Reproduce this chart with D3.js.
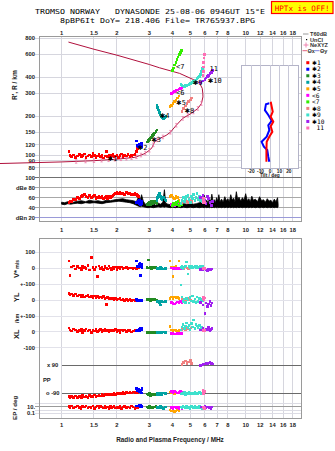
<!DOCTYPE html>
<html><head><meta charset="utf-8">
<script src="https://cdn.jsdelivr.net/npm/d3@7"></script>
<style>
html,body{margin:0;padding:0;background:#fff;}
svg{display:block;}
text{font-family:"Liberation Sans",Arial,sans-serif;}
.mono{font-family:"DejaVu Sans Mono","Liberation Mono",monospace;white-space:pre;}
.star{font-family:"DejaVu Sans","DejaVu Sans Mono",sans-serif;}
</style></head><body>
<svg id="c" width="335" height="451"></svg>
<script>
// ---- axis ticks ----
const freqTicks = [1, 1.5, 2, 3, 4, 5, 6, 7, 8, 10, 12, 14, 16, 18];
const freqTickLabels = ["1", "1.5", "2", "3", "4", "5", "6", "7", "8", "10", "12", "14", "16", "18"];
const rangeTicks = [800, 600, 400, 300, 200, 150, 120, 100, 90, 80];
const dbTicks = [100, 80, 60, 40, 20];
const dbTickLabels = ["100", "dBe 80", "60", "40", "dBn 20"];
const vstarTicks = [100, 0, -100];
const vstarTickLabels = ["100", "0", "+-100"];
const ylTicks = [0, -100];
const ylTickLabels = ["0", "+-100"];
const xlTicks = [0, -100];
const xlTickLabels = ["0", "-100"];
const epTicks = [100, 10, 1, 0.1];
const epTickLabels = ["", "10.", "", "0.1"];
const tiltTicks = [-20, -10, 0, 10, 20];

// ---- true-height profile (plasma frequency MHz, real height km) ----
const profileFreq = [0.46, 1.0, 1.5, 2.0, 2.5, 2.65, 2.8, 2.9, 3.0, 3.1, 3.15, 3.2, 3.3, 3.4, 3.55, 3.7, 3.9, 4.2, 4.55, 5.07, 5.5, 5.75, 5.86, 5.85, 5.81, 5.63, 5.17, 4.38, 3.4, 3.0, 2.0, 1.5, 1.09];
const profileHeight = [86, 88.5, 90.5, 93, 96, 99, 102, 105, 109, 114, 120, 126, 131, 134, 138, 142, 150, 170, 192, 210, 229, 250, 281, 300, 327, 357, 384, 427, 472, 500, 590, 656, 745];
// NeXYZ profile points
const nexyzFreq = [1.2, 1.35, 1.5, 1.65, 1.8, 1.95, 2.1, 2.25, 2.4, 2.55, 2.7, 2.85, 3.0, 3.15, 3.3, 3.55, 3.9, 4.2, 4.55, 4.85, 5.2, 5.5, 5.75];
const nexyzHeight = [89.3, 90, 90.5, 91.3, 92, 92.8, 93.6, 94.5, 95.4, 97, 100, 103.5, 109, 120, 131, 138, 150, 170, 192, 203, 215, 229, 250];

// ---- tilt profiles (deg vs real height km) ----
const thetaXHeight = [258, 216, 198, 181, 167, 151, 138.5, 126.6, 109, 88.8];
const thetaX = [0.75, 2.9, 0.75, 3.5, 0.75, 2.5, -0.75, -3.5, -3.8, -3.8];
const thetaYHeight = [250.8, 247, 222, 204, 184, 170, 156, 138.5, 126.6, 115.9, 109.3, 97, 88.8];
const thetaY = [-0.75, -4.3, -5.4, -1.8, 1.8, -1.8, -0.75, -3.5, -8.9, -6.5, -2.9, -1.8, -0.75];

// ---- receiver noise band (dB) ----
const noiseFreq = [1.00,1.04,1.08,1.12,1.16,1.22,1.28,1.35,1.42,1.50,1.58,1.66,1.75,1.85,1.95,2.05,2.15,2.25,2.35,2.45,2.55,2.62,2.68,2.72,2.78,2.85,2.95,3.05,3.15,3.25,3.35,3.45,3.55,3.62,3.68,3.78,3.90,4.00,4.15,4.30,4.45,4.60,4.80,5.00,5.20,5.40,5.60,5.80,5.95,6.05,6.15,6.25,6.35,6.45,6.55,6.65,6.75,6.85,6.95,7.05,7.15,7.25,7.40,7.55,7.70,7.85,8.00,8.15,8.30,8.45,8.60,8.75,8.90,9.05,9.20,9.40,9.60,9.80,10.0,10.2,10.4,10.6,10.8,11.0,11.3,11.6,11.9,12.2,12.5,12.8,13.1,13.4,13.7,14.0,14.3,14.6,14.9,15.0];
const noiseLow = [47,46,48,47,48,49,48,50,49,50,49,48,50,51,52,53,52,51,50,48,45,43,42,43,42,41,40,41,40,41,42,41,42,41,42,41,40,41,40,41,40,41,40,41,40,41,40,41,40,41,40,41,40,41,40,41,40,41,40,41,40,41,40,41,40,41,40,41,40,41,40,41,40,41,40,41,40,41,40,41,40,41,40,41,40,41,40,41,40,41,40,41,40,41,40,41,40,42];
const noiseHigh = [51,50,52,53,51,53,54,52,55,53,54,52,55,54,56,57,58,56,55,54,52,62,56,66,53,47,45,46,48,45,49,47,51,76,49,47,46,48,47,49,46,48,47,49,47,48,50,51,65,50,55,49,58,52,67,53,56,50,60,53,66,52,57,51,62,54,58,52,66,55,59,52,72,56,61,53,60,55,68,54,58,52,63,55,57,52,62,54,56,51,58,53,55,50,57,52,60,48];

// ---- echo clusters: [freq MHz, R' km, amplitude dB, V* m/s, YL km, XL km, PP deg, EP deg] ----
const echoes1 = [
 [1.10,107,50,45,40,22,-112,12],[1.11,99,52,-46,33,10,-118,6],[1.13,97,53,8,36,5,-110,20],
 [1.16,100,56,15,28,18,-115,4],[1.19,96,57,-4,38,12,-108,9],[1.22,98,60,10,25,2,-116,15],
 [1.25,101,58,2,31,8,-112,5],[1.28,97,62,-8,22,14,-120,3],[1.30,99,64,12,27,-4,-105,11],
 [1.33,102,66,5,20,6,-113,7],[1.36,96,63,-2,24,16,-110,18],[1.39,98,61,18,29,3,-118,4],
 [1.42,100,65,-12,18,10,-104,10],[1.45,97,60,66,22,-6,-112,6],[1.48,103,62,4,15,12,-109,14],
 [1.51,99,64,-6,25,4,-102,3],[1.54,96,59,9,17,18,-111,8],[1.57,98,61,-52,21,0,-106,20],
 [1.60,101,63,13,12,8,-100,5],[1.63,97,60,0,19,13,-108,12],[1.66,99,62,7,14,-3,-98,7],
 [1.69,95,58,-9,22,9,-104,4],[1.72,98,61,11,10,15,-96,16],[1.75,106,63,3,-27,5,-102,6],
 [1.78,97,59,-5,16,11,-99,9],[1.81,100,62,14,8,-2,-94,3],[1.84,96,60,1,13,7,-100,13],
 [1.87,99,63,-10,6,12,-95,5],[1.90,101,65,6,11,3,-97,8],[1.93,97,66,-3,4,9,-92,19],
 [1.96,98,68,9,9,14,-96,4],[2.00,100,70,-7,2,2,-90,10],[2.04,96,69,4,7,8,-93,6],
 [2.08,99,71,-1,12,-4,-88,15],[2.12,102,68,8,0,10,-92,3],[2.16,97,69,-4,5,5,-86,8],
 [2.20,99,67,2,-3,12,-90,12],[2.25,98,70,5,3,0,-85,5],[2.30,101,68,-2,-2,6,-88,9],
 [2.35,97,69,1,4,9,-84,4],[2.40,99,66,3,-4,-3,-87,14],[2.45,100,67,-1,1,4,-83,7],
 [2.50,101,68,2,-3,8,-86,3],[2.55,106,66,0,2,5,-82,10],[2.58,112,64,3,-1,10,-85,6],
 [2.61,117,62,1,0,7,-80,12]
];
const echoes2 = [
 [2.55,128,50,45,2,5,-58,20],[2.60,117,52,10,-2,10,-62,15],[2.63,120,48,25,-5,16,-66,25],
 [2.66,122,54,30,0,20,-72,18],[2.68,115,46,-46,-4,14,-78,30],[2.70,119,50,15,-6,24,-84,22],
 [2.72,121,53,20,-3,19,-88,16],[2.74,117,49,5,-2,12,-60,12],[2.66,118,51,8,-5,8,-80,10],
 [2.70,123,47,22,-1,18,-68,26],[2.58,119,50,12,-3,6,-75,14],[2.74,124,52,28,-4,22,-64,20]
];
const echoes3 = [
 [2.92,126,46,5,2,-4,-95,8],[2.96,129,48,52,0,-2,-100,5],[3.00,132,50,3,4,-6,-92,12],
 [3.04,135,47,8,-2,-3,-105,6],[3.08,138,52,0,3,-5,-98,10],[3.12,141,49,6,1,-8,-102,4],
 [3.16,144,51,2,-1,-4,-94,9],[3.20,148,53,4,2,-6,-99,7],[3.25,152,50,7,0,-3,-96,11],
 [3.30,156,48,3,-2,-5,-101,5]
];
const echoes4 = [
 [3.30,242,55,-3,-8,-6,-96,6],[3.33,232,60,2,-12,-4,-92,10],[3.36,222,65,-5,-5,-8,-100,4],
 [3.40,212,68,0,-15,-3,-94,8],[3.44,204,62,4,-30,-6,-90,12],[3.48,198,58,-2,-10,-5,-98,5],
 [3.52,194,56,1,-8,-7,-93,9],[3.58,192,60,-4,-12,-2,-88,3],[3.64,195,57,3,-6,-6,-95,7],
 [3.70,198,55,-1,-9,-4,-90,10]
];
const echoes5 = [
 [3.88,236,62,45,10,31,-82,1],[3.95,242,65,8,18,10,-88,0.5],[4.02,250,60,-52,5,5,-85,0.8],
 [4.10,258,58,4,20,12,-90,0.4],[4.18,266,63,10,12,8,-84,0.6],[4.26,276,61,2,15,3,-87,1],
 [4.34,286,55,45,8,6,-86,0.5]
];
const echoes6 = [
 [3.95,300,46,2,-15,-12,-80,5],[4.02,304,48,-2,-22,-10,-85,3],[4.10,309,45,0,-25,-15,-78,8],
 [4.18,314,50,3,-18,-13,-82,4],[4.26,318,47,-1,-12,-11,-88,6],[4.34,323,49,1,-20,-14,-84,2],
 [4.42,328,46,0,-10,-12,-80,7],[4.50,333,48,2,-16,-10,-86,3]
];
const echoes7 = [
 [4.00,450,44,null,null,null,null,null],[4.06,470,48,null,null,null,null,null],
 [4.12,495,46,null,null,null,null,null],[4.18,520,50,null,null,null,null,null],
 [4.24,545,47,null,null,null,null,null],[4.30,570,52,null,null,null,null,null],
 [4.36,595,45,null,null,null,null,null],[4.42,620,49,null,null,null,null,null],
 [4.48,640,46,null,null,null,null,null]
];
const echoes8 = [
 [4.50,218,50,5,10,15,95,5],[4.60,229,52,0,5,20,105,8],[4.70,240,55,8,-5,10,115,4],
 [4.80,250,53,2,0,25,100,10],[4.90,258,51,-3,8,18,110,6],[5.00,267,54,6,3,12,120,3],
 [5.06,275,52,1,-2,22,98,7]
];
const echoes9 = [
 [4.45,350,48,5,94,10,-95,10],[4.52,345,55,12,20,30,-88,5],[4.58,342,60,0,-10,45,-92,15],
 [4.65,340,52,8,5,20,-85,8],[4.72,343,58,15,-15,35,-98,4],[4.78,345,62,39,10,55,-90,12],
 [4.85,348,65,-36,0,25,-94,6],[4.92,352,56,10,-20,40,-86,9],[5.00,356,50,4,15,15,-92,3],
 [5.08,360,63,12,-5,50,-88,14],[5.15,365,58,2,25,30,-95,7],[5.22,370,66,9,-10,73,-90,5],
 [5.30,375,54,14,5,20,-84,11],[5.38,380,60,6,-15,45,-93,4],[5.45,388,68,11,20,35,-87,8],
 [5.52,395,57,3,-8,25,-91,6],[5.60,405,62,8,10,40,-85,12],[5.68,420,55,13,-12,15,-89,5],
 [5.75,440,59,5,3,30,-94,9],[5.82,465,52,10,-5,20,-88,3],[5.85,480,56,7,0,10,-92,7]
];
const echoes10 = [
 [5.70,362,60,-8,-15,10,88,8],[5.85,372,65,-12,-30,22,92,4],[6.00,385,55,-5,-83,5,96,12],
 [6.10,393,48,-10,-20,18,100,6],[6.20,402,62,-15,-40,12,98,10],[6.30,412,58,-6,-25,25,102,5],
 [6.40,424,50,-9,-10,8,104,9],[6.50,436,45,-12,-35,15,100,3],[6.58,448,52,-4,-20,20,97,7]
];
const echoes11 = [
 [5.85,410,55,0,10,5,-70,6],[5.88,440,50,2,20,12,-85,4],[5.90,480,58,-2,5,8,-95,8],
 [5.92,520,52,1,15,3,-75,5],[5.95,560,56,3,0,10,-90,7],[5.97,600,50,-1,12,6,-80,3]
];
const clusterNames = ["✱1", "✱2", "✱3", "✱4", "✱5", "<6", "<7", "✱8", "✱9", "✱10", "11"];
const clusterColors = ["#ff0000", "#0000ff", "#228b22", "#00a3a3", "#ffa500", "#ff00ff", "#33ee00", "#f08080", "#3ee0cc", "#a020f0", "#ff6eb4"];
const clusterLabelFreq = [1.778, 2.588, 3.067, 3.41, 4.19, 4.19, 4.19, 4.65, 5.16, 6.22, 6.37];
const clusterLabelHeight = [93.1, 114.3, 130.5, 200, 252, 303.5, 482, 220.5, 362.6, 375.7, 466];
const clusterEchoes = [echoes1, echoes2, echoes3, echoes4, echoes5, echoes6, echoes7, echoes8, echoes9, echoes10, echoes11];

// ---- drawing ----
const svg = d3.select("#c");
const L = 39.5, R = 301.5;
const upTop = 36, upBot = 221.7, loTop = 238, loBot = 418.3;

const x = d3.scaleLog().domain([0.759, 20.1]).range([L, R]);
const yR = d3.scaleLog().domain([74, 830]).range([172, 36]);
const yDb = d3.scaleLinear().domain([20, 100]).range([217.7, 177.7]);
const yV = d3.scaleLinear().domain([-100, 100]).range([284.3, 252.3]);
const yYL = d3.scaleLinear().domain([-100, 100]).range([316, 284]);
const yXL = d3.scaleLinear().domain([-100, 100]).range([347.7, 315.7]);
const yPP = d3.scaleLinear().domain([-90, 90]).range([393.3, 365]);
const yEP = d3.scaleLog().domain([0.1, 10]).range([413.3, 406.7]);
const xTilt = d3.scaleLinear().domain([-30, 30]).range([241.7, 298.3]);

const grid = svg.append("g").attr("shape-rendering", "crispEdges");
const gridCol = "#d6d6de";

// vertical frequency grid in both frames
freqTicks.forEach(f => {
  grid.append("line").attr("x1", x(f)).attr("x2", x(f)).attr("y1", upTop).attr("y2", upBot).attr("stroke", gridCol);
  grid.append("line").attr("x1", x(f)).attr("x2", x(f)).attr("y1", loTop).attr("y2", loBot).attr("stroke", gridCol);
});
// range grid
rangeTicks.forEach(h => {
  grid.append("line").attr("x1", 35).attr("x2", R).attr("y1", yR(h)).attr("y2", yR(h)).attr("stroke", gridCol);
});
// amplitude grid
dbTicks.forEach(d => {
  const col = d === 100 ? "#707070" : (d === 20 ? "#9a9ad8" : "#a8a8a8");
  grid.append("line").attr("x1", 35).attr("x2", R).attr("y1", yDb(d)).attr("y2", yDb(d)).attr("stroke", col);
});
// lower panel grids
const lowerRows = [[yV, vstarTicks], [yYL, ylTicks], [yXL, xlTicks]];
lowerRows.forEach(([s, t]) => t.forEach(v => {
  grid.append("line").attr("x1", 35).attr("x2", R).attr("y1", s(v)).attr("y2", s(v)).attr("stroke", "#e2e2ea");
}));
[90, -90].forEach(p => {
  grid.append("line").attr("x1", x(1)).attr("x2", R).attr("y1", yPP(p)).attr("y2", yPP(p)).attr("stroke", "#6a6a6a");
});
epTicks.forEach(e => {
  grid.append("line").attr("x1", 35).attr("x2", R).attr("y1", yEP(e)).attr("y2", yEP(e)).attr("stroke", e === 10 ? "#9a9a9a" : "#dcdce4");
});

// frames
svg.append("rect").attr("x", L).attr("y", upTop).attr("width", R - L).attr("height", upBot - upTop)
  .attr("fill", "none").attr("stroke", "#9a9a9a").attr("shape-rendering", "crispEdges");
svg.append("rect").attr("x", L).attr("y", loTop).attr("width", R - L).attr("height", loBot - loTop)
  .attr("fill", "none").attr("stroke", "#9a9a9a").attr("shape-rendering", "crispEdges");

// frequency tick labels (top, middle, bottom)
const tickFont = "5.8px";
[34.5, 231.5, 427].forEach(yy => {
  freqTicks.forEach((f, i) => {
    svg.append("text").attr("x", x(f)).attr("y", yy).attr("text-anchor", "middle")
      .attr("font-size", tickFont).attr("font-weight", "bold").attr("fill", "#222").text(freqTickLabels[i]);
  });
});

// left tick labels
function leftLabel(yy, s) {
  svg.append("text").attr("x", 35).attr("y", yy + 2).attr("text-anchor", "end")
    .attr("font-size", tickFont).attr("font-weight", "bold").attr("fill", "#222").text(s);
}
rangeTicks.forEach(h => leftLabel(yR(h), String(h)));
dbTicks.forEach((d, i) => leftLabel(yDb(d), dbTickLabels[i]));
vstarTicks.forEach((v, i) => leftLabel(yV(v), vstarTickLabels[i]));
ylTicks.forEach((v, i) => leftLabel(yYL(v), ylTickLabels[i]));
xlTicks.forEach((v, i) => leftLabel(yXL(v), xlTickLabels[i]));
epTicks.forEach((e, i) => { if (epTickLabels[i]) leftLabel(yEP(e), epTickLabels[i]); });

// polarization row labels inside the frame
svg.append("text").attr("x", 47).attr("y", yPP(90) + 2).attr("font-size", tickFont).attr("font-weight", "bold").attr("fill", "#222").text("x  90");
svg.append("text").attr("x", 46).attr("y", yPP(-90) + 2).attr("font-size", tickFont).attr("font-weight", "bold").attr("fill", "#222").text("o -90");
svg.append("text").attr("x", 43).attr("y", 381.5).attr("font-size", tickFont).attr("font-weight", "bold").attr("fill", "#222").text("PP");

// axis titles
function vTitle(xx, yy, parts) {
  const t = svg.append("text").attr("transform", `translate(${xx},${yy}) rotate(-90)`).attr("fill", "#222");
  parts.forEach(([s, fs, fw]) => t.append("tspan").attr("font-size", fs).attr("font-weight", fw).text(s));
}
vTitle(17, 100, [["R', R / km", "6.6px", "bold"]]);
vTitle(19, 278, [["V*", "7.5px", "bold"], [" m/s", "5px", "bold"]]);
vTitle(19, 302, [["YL", "7.5px", "bold"]]);
vTitle(19, 323, [["/km", "5.5px", "bold"]]);
vTitle(19, 339, [["XL", "7.5px", "bold"]]);
vTitle(17, 420, [["EP / deg", "6.2px", "bold"]]);
svg.append("text").attr("x", 170).attr("y", 441.5).attr("text-anchor", "middle")
  .attr("font-size", "6.4px").attr("font-weight", "bold").attr("fill", "#222").text("Radio and Plasma Frequency / MHz");

// header (stretched to the station's line widths)
svg.append("text").attr("class", "mono").attr("x", 35).attr("y", 14.3).attr("font-size", "6.9px").attr("fill", "#000")
  .attr("textLength", 230).attr("lengthAdjust", "spacingAndGlyphs")
  .text("TROMSO NORWAY   DYNASONDE 25-08-06 0946UT 15°E");
svg.append("text").attr("class", "mono").attr("x", 60).attr("y", 22.6).attr("font-size", "6.9px").attr("fill", "#000")
  .attr("textLength", 195).attr("lengthAdjust", "spacingAndGlyphs")
  .text("8pBP6It DoY= 218.406 File= TR765937.BPG");
svg.append("rect").attr("x", 271.5).attr("y", 1.5).attr("width", 61.5).attr("height", 12)
  .attr("fill", "#ffff00").attr("stroke", "#ff0000").attr("stroke-width", 1.2);
svg.append("text").attr("class", "mono").attr("x", 302.2).attr("y", 10.6).attr("text-anchor", "middle")
  .attr("font-size", "7.4px").attr("fill", "#ff0000").attr("textLength", 55).attr("lengthAdjust", "spacingAndGlyphs")
  .text("HPTx is OFF!");

// clip for the range panel
svg.append("clipPath").attr("id", "clipR").append("rect").attr("x", 0).attr("y", upTop).attr("width", R).attr("height", 172 - upTop);

// profile
const prof = d3.line().x((d, i) => x(profileFreq[i])).y((d, i) => yR(profileHeight[i]));
svg.append("path").attr("d", prof(profileFreq)).attr("fill", "none").attr("stroke", "#b0103c")
  .attr("stroke-width", 1).attr("clip-path", "url(#clipR)");
const nx = svg.append("g").attr("stroke", "#ec79a8").attr("stroke-width", 0.7).attr("fill", "none");
nexyzFreq.forEach((f, i) => {
  const px = x(f), py = yR(nexyzHeight[i]);
  nx.append("path").attr("d", `M${px - 1.2},${py - 1.8}h2.4M${px},${py - 1.8}v3.6M${px - 1.2},${py + 1.8}h2.4`);
});

// tilt inset
svg.append("rect").attr("x", xTilt(-30)).attr("y", 65).attr("width", xTilt(30) - xTilt(-30)).attr("height", 103.3)
  .attr("fill", "#fff").attr("stroke", "#b4b4c8").attr("shape-rendering", "crispEdges");
tiltTicks.forEach(t => {
  svg.append("line").attr("x1", xTilt(t)).attr("x2", xTilt(t)).attr("y1", 65).attr("y2", 168.3)
    .attr("stroke", "#c8c8d8").attr("shape-rendering", "crispEdges");
  svg.append("text").attr("x", xTilt(t)).attr("y", 172.5).attr("text-anchor", "middle")
    .attr("font-size", "4.8px").attr("font-weight", "bold").attr("fill", "#222").text(String(t));
});
svg.append("text").attr("x", xTilt(0)).attr("y", 177).attr("text-anchor", "middle")
  .attr("font-size", "4.8px").attr("font-weight", "bold").attr("fill", "#222").text("Tilt / deg");
const tiltY = d3.line().x((d, i) => xTilt(thetaY[i])).y((d, i) => yR(thetaYHeight[i]));
const tiltX = d3.line().x((d, i) => xTilt(thetaX[i])).y((d, i) => yR(thetaXHeight[i]));
svg.append("path").attr("d", tiltY(thetaY)).attr("fill", "none").attr("stroke", "#0000ff").attr("stroke-width", 2);
svg.append("path").attr("d", tiltX(thetaX)).attr("fill", "none").attr("stroke", "#ff0000").attr("stroke-width", 2);

// noise band in the amplitude panel
const noiseArea = d3.area().x((d, i) => x(noiseFreq[i])).y0((d, i) => yDb(noiseLow[i])).y1((d, i) => yDb(noiseHigh[i]));
svg.append("path").attr("d", noiseArea(noiseFreq)).attr("fill", "#000").attr("stroke", "#000").attr("stroke-width", 0.8);

// echoes
function sq(g, px, py, s, col) {
  g.append("rect").attr("x", px - s / 2).attr("y", py - s / 2).attr("width", s).attr("height", s).attr("fill", col);
}
const eg = svg.append("g").attr("shape-rendering", "crispEdges");
clusterEchoes.forEach((rows, c) => {
  const col = clusterColors[c];
  rows.forEach(r => {
    const px = x(r[0]);
    sq(eg, px, yR(r[1]), 2.6, col);
    sq(eg, px, yDb(r[2]), 2.6, col);
    if (r[3] !== null) sq(eg, px, yV(r[3]), 2.5, col);
    if (r[4] !== null) sq(eg, px, yYL(r[4]), 2.5, col);
    if (r[5] !== null) sq(eg, px, yXL(r[5]), 2.5, col);
    if (r[6] !== null) sq(eg, px, yPP(r[6]), 2.6, col);
    if (r[7] !== null) sq(eg, px, yEP(r[7]), 2.4, col);
  });
});

// cluster tag: marker glyph + number
function tag(sel, name, fs) {
  const mark = name.charAt(0);
  if (mark === "✱") {
    sel.append("tspan").attr("class", "star").attr("font-size", (fs * 0.95) + "px").text(mark);
    sel.append("tspan").text(name.slice(1));
  } else {
    sel.text(name);
  }
}
clusterNames.forEach((n, i) => {
  const t = svg.append("text").attr("class", "mono").attr("x", x(clusterLabelFreq[i])).attr("y", yR(clusterLabelHeight[i]) + 2.4)
    .attr("font-size", "7px").attr("fill", "#000");
  tag(t, n, 7);
});

// legend
const lg = svg.append("g");
lg.append("line").attr("x1", 303).attr("x2", 308.5).attr("y1", 34).attr("y2", 34).attr("stroke", "#999");
lg.append("text").attr("x", 310).attr("y", 36).attr("font-size", "5.6px").attr("font-weight", "bold").attr("fill", "#333").text("T60dB");
lg.append("rect").attr("x", 306).attr("y", 39).attr("width", 1.2).attr("height", 1.2).attr("fill", "#000");
lg.append("text").attr("x", 310).attr("y", 41.6).attr("font-size", "5.6px").attr("font-weight", "bold").attr("fill", "#333").text("UnCl");
lg.append("path").attr("d", "M303.5,45h5M306,42.5v5").attr("stroke", "#ec79a8").attr("stroke-width", 0.9);
lg.append("text").attr("x", 310).attr("y", 47.2).attr("font-size", "5.6px").attr("font-weight", "bold").attr("fill", "#333").text("NeXYZ");
lg.append("line").attr("x1", 302.5).attr("x2", 307).attr("y1", 50.7).attr("y2", 50.7).attr("stroke", "#e06080");
lg.append("text").attr("x", 307.5).attr("y", 52.7).attr("font-size", "5.6px").attr("font-weight", "bold").attr("fill", "#333").text("Θx");
lg.append("line").attr("x1", 315).attr("x2", 319.5).attr("y1", 50.7).attr("y2", 50.7).attr("stroke", "#8080e0");
lg.append("text").attr("x", 320).attr("y", 52.7).attr("font-size", "5.6px").attr("font-weight", "bold").attr("fill", "#333").text("Θy");
clusterNames.forEach((n, i) => {
  const yy = 62.7 + i * 6.53;
  lg.append("rect").attr("x", 306.3).attr("y", yy - 1.5).attr("width", 3).attr("height", 3).attr("fill", clusterColors[i]);
  const t = lg.append("text").attr("class", "mono").attr("x", n.charAt(0) === "1" ? 316.5 : 312).attr("y", yy + 2.2)
    .attr("font-size", "6.2px").attr("fill", "#000");
  tag(t, n, 6.2);
});
</script></body></html>
